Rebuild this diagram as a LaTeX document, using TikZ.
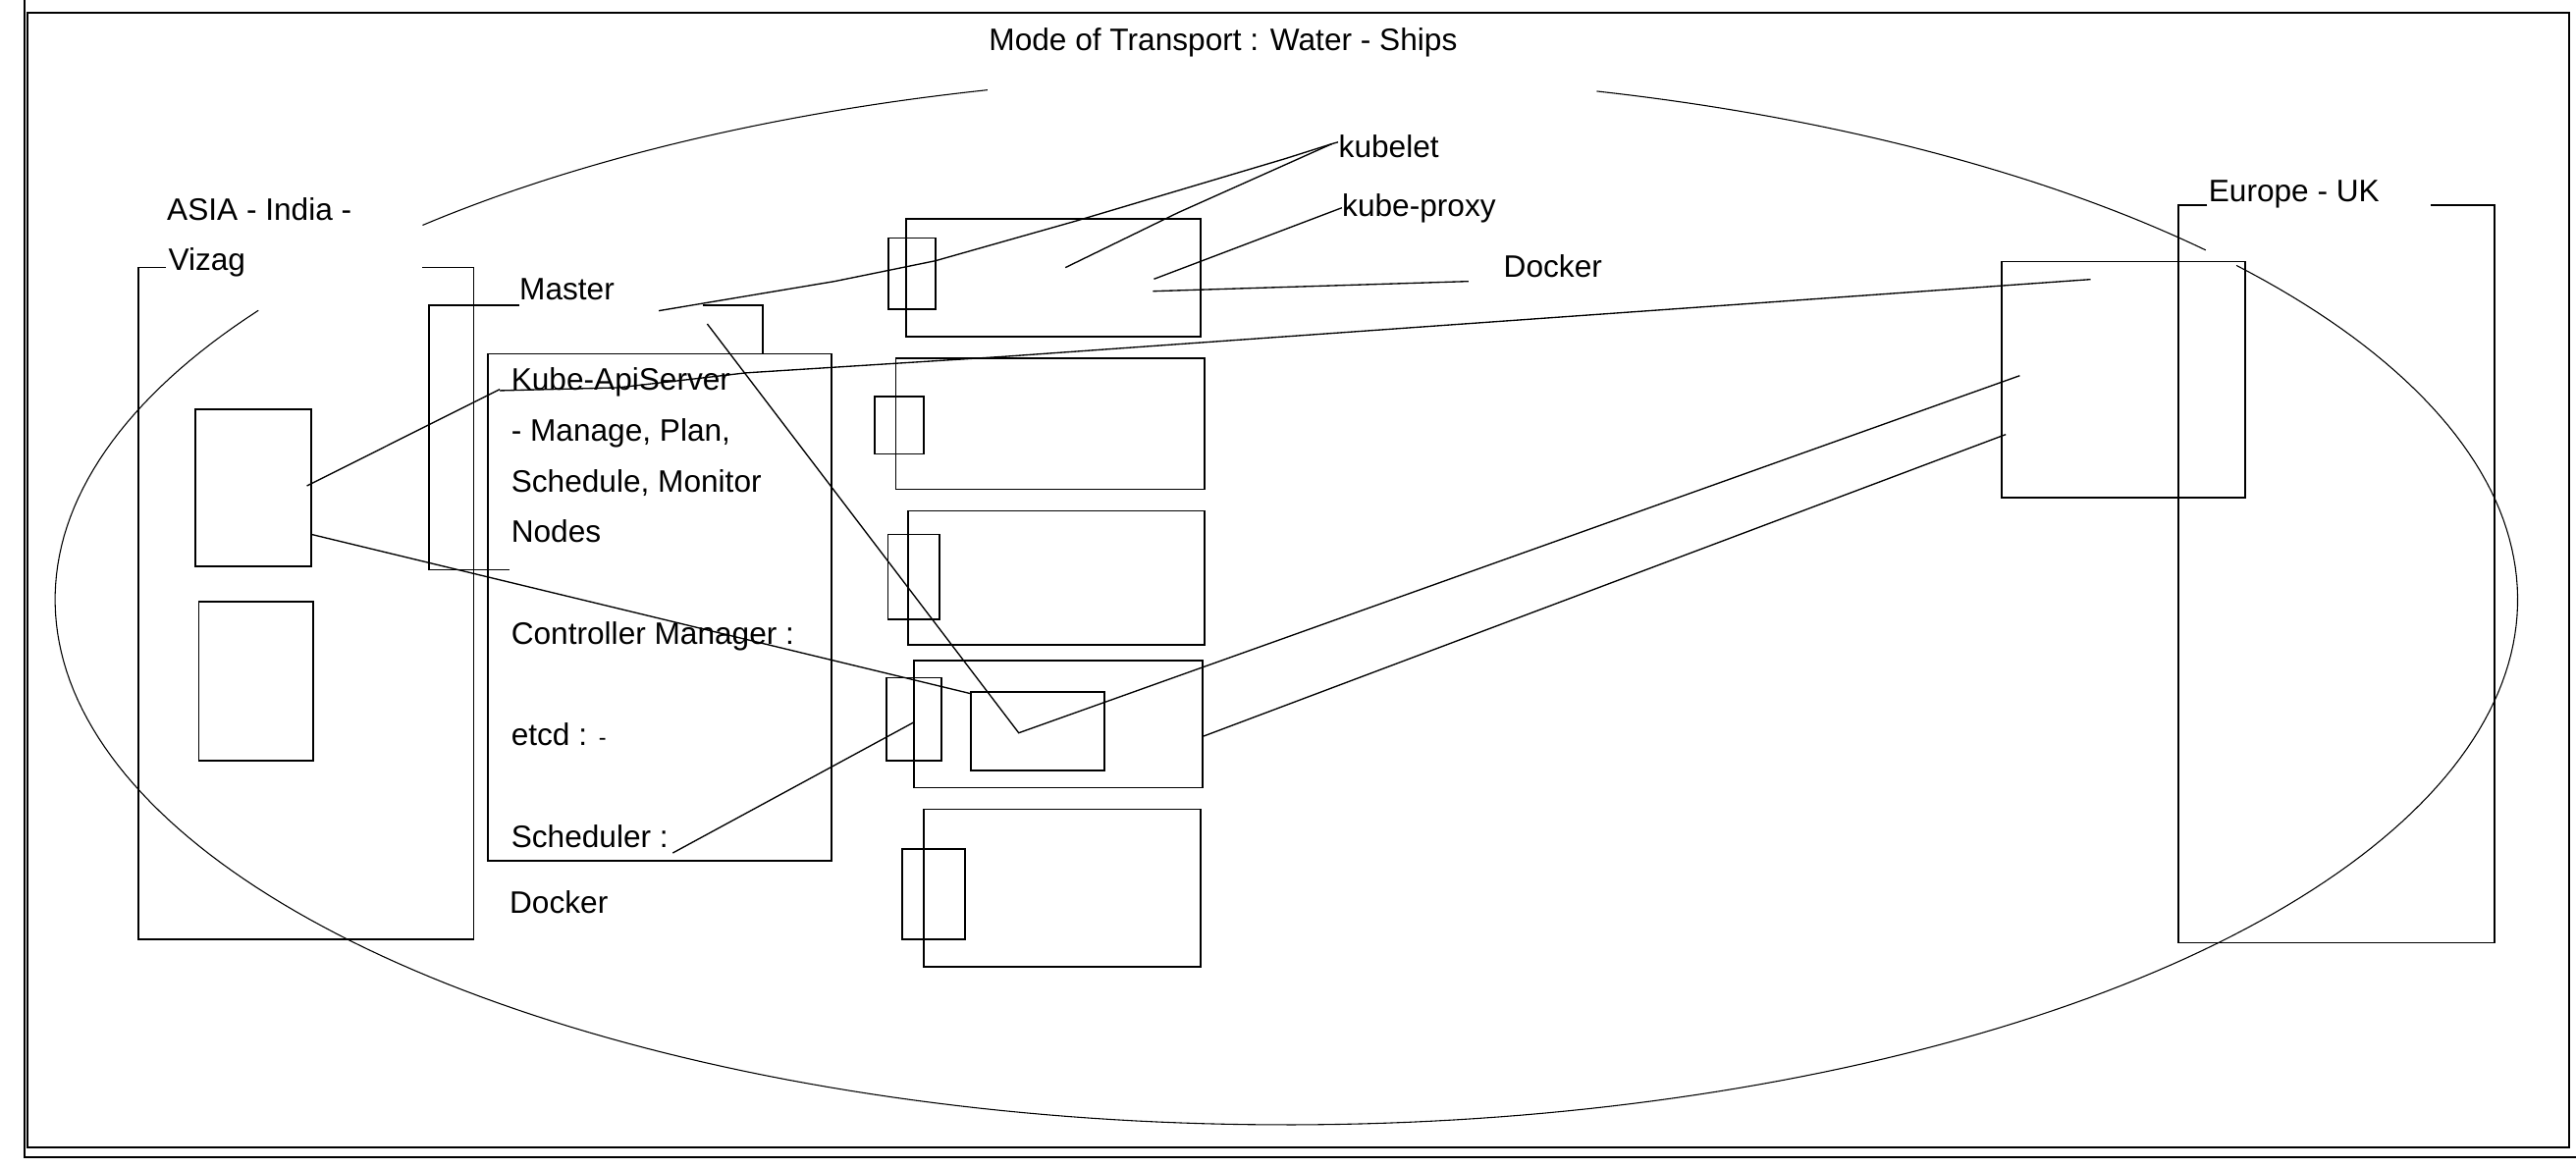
\documentclass[tikz,border=0pt]{standalone}
\usepackage{fontspec}
\setmainfont{Liberation Sans}
\begin{document}
\begin{tikzpicture}[x=1pt,y=-1pt,
  box/.style={line width=1pt},
  wire/.style={line width=0.8pt},
  oval/.style={line width=0.65pt},
  lbl/.style={anchor=base west, inner sep=0pt, font=\fontsize{18.9}{22}\selectfont}]
\useasboundingbox (0,0) rectangle (1568,711.1);
\clip (0,0) rectangle (1568,711.1);

% page frames
\draw[line width=1.3pt] (14.9,-2) -- (14.9,704.5) -- (1570,704.5);
\draw[box] (16.9,7.6) rectangle (1563.8,698.5);

% big ellipse (with gaps behind labels)
\draw[oval] plot[domain=225.45:255.95, samples=40] ({783+749.5*cos(\x)},{365+319.8*sin(\x)});
\draw[oval] plot[domain=284.6:318.3, samples=40] ({783+749.5*cos(\x)},{365+319.8*sin(\x)});
\draw[oval] plot[domain=320.5:573.4, samples=240] ({783+749.5*cos(\x)},{365+319.8*sin(\x)});

% titles and labels
\node[lbl] (title) at (601.8,30.9) {Mode of Transport : Water - Ships};
\node[lbl] (asia1) at (101.5,133.9) {ASIA - India -};
\node[lbl] (asia2) at (102.3,164.6) {Vizag};
\node[lbl] (master) at (316,182.3) {Master};
\node[lbl] (k1) at (311,237.6) {Kube-ApiServer};
\node[lbl] (k2) at (311,268.5) {- Manage, Plan,};
\node[lbl] (k3) at (311,299.4) {Schedule, Monitor};
\node[lbl] (k4) at (311,330.3) {Nodes};
\node[lbl] (k5) at (311,392.0) {Controller Manager :};
\node[lbl] (k6) at (311,453.8) {etcd : {\fontsize{14}{16}\selectfont -}};
\node[lbl] (k7) at (311,515.8) {Scheduler :};
\node[lbl] (dockerA) at (310,556.3) {Docker};
\node[lbl] (kubelet) at (814.7,96) {kubelet};
\node[lbl] (kproxy) at (816.8,131.9) {kube-proxy};
\node[lbl] (dockerB) at (915.1,168.9) {Docker};
\node[lbl] (europe) at (1344.2,122.9) {Europe - UK};

% Asia region
\draw[box] (101,162.9) -- (84.1,162.9) -- (84.1,571.7) -- (288.4,571.7) -- (288.4,162.9) -- (257.2,162.9);
\draw[box] (118.9,249) rectangle (189.4,344.6);
\draw[box] (121.1,366.3) rectangle (190.8,463.1);

% Master
\draw[box] (316,185.8) -- (261.1,185.8) -- (261.1,346.9) -- (310,346.9);
\draw[box] (428,185.8) -- (464.2,185.8) -- (464.2,215.5);
\draw[box] (296.8,215.4) rectangle (506.2,523.9);

% worker nodes
\draw[box] (551.5,133.1) rectangle (730.9,204.8);
\draw[box] (540.8,145) rectangle (569.3,188.2);
\draw[box] (545.3,218.1) rectangle (733.3,297.8);
\draw[box] (532.3,241.6) rectangle (562.1,276.3);
\draw[box] (552.7,311.1) rectangle (733.2,392.4);
\draw[box] (540.5,325.3) rectangle (571.9,377);
\draw[box] (556.4,402.1) rectangle (732,479.6);
\draw[box] (539.7,412.7) rectangle (573.2,463.1);
\draw[box] (590.9,421.1) rectangle (672.2,469.1);
\draw[box] (562.2,492.6) rectangle (730.8,588.6);
\draw[box] (549.1,516.9) rectangle (587.5,571.8);

% Europe region
\draw[box] (1343.5,124.9) -- (1326,124.9) -- (1326,574) -- (1518.3,574) -- (1518.3,124.9) -- (1479.4,124.9);
\draw[box] (1218.4,159.3) rectangle (1366.6,302.8);

% connectors
\draw[wire] (814.5,86.5) -- (810.7,87.6) -- (782.3,96.6) -- (655.4,134.4) -- (569.3,158.8) -- (507.9,171.3) -- (401,189.2);
\draw[wire] (810.7,87.6) -- (717,129.5) -- (648.5,162.9);
\draw[wire] (816.8,126.5) -- (702.4,169.9);
\draw[wire] (893.8,171.3) -- (701.7,177.3);
\draw[wire] (186.8,295.8) -- (304.2,237);
\draw[wire] (304.2,237.8) -- (376.2,236) -- (454,227) -- (610.8,217.1) -- (1272.5,170.1);
\draw[wire] (189.4,325.3) -- (590.9,422.3);
\draw[wire] (430.5,197.2) -- (620.1,446.2) -- (1229.4,228.7);
\draw[wire] (732.6,448.2) -- (1220.9,264.5);
\draw[wire] (409.5,519.3) -- (556.1,439.8);
\end{tikzpicture}
\end{document}
